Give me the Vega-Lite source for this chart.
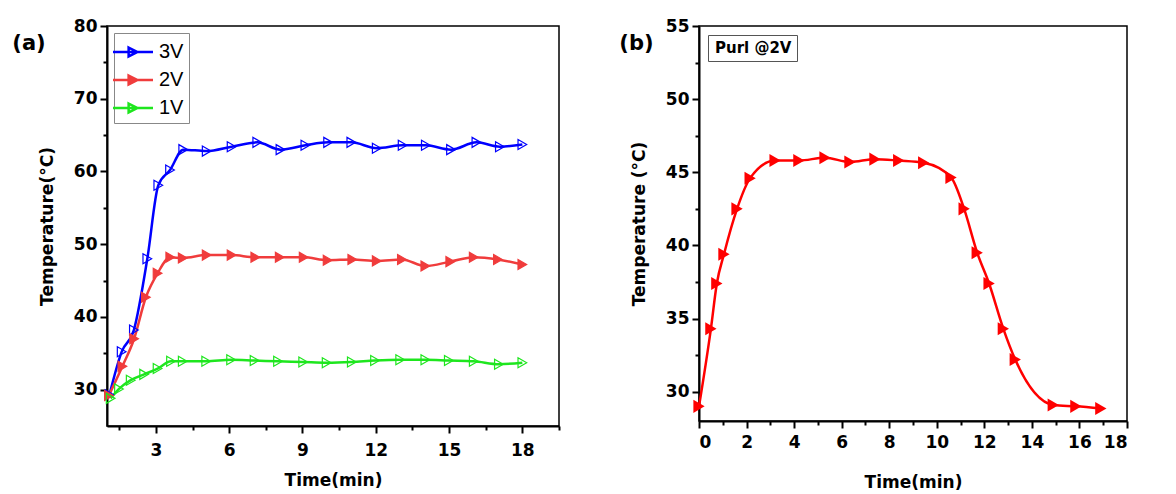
{
  "$schema": "https://vega.github.io/schema/vega-lite/v6.json",
  "padding": {"left": 11, "top": 16, "right": 5, "bottom": 0},
  "background": "white",
  "config": {
    "font": "DejaVu Sans",
    "view": {"stroke": "black", "strokeWidth": 1.5},
    "axis": {"domainColor": "black", "domainWidth": 2, "tickColor": "black", "tickWidth": 2, "tickSize": 7, "labelFont": "DejaVu Sans", "labelFontWeight": "bold", "labelFontSize": 17, "labelColor": "black", "titleFont": "DejaVu Sans", "titleFontWeight": "bold", "titleFontSize": 17, "titleColor": "black", "grid": false, "labelPadding": 3},
    "title": {"anchor": "start", "frame": "bounds", "fontSize": 21, "fontWeight": "bold", "font": "DejaVu Sans", "color": "black"}
  },
  "spacing": 57,
  "resolve": {"scale": {"stroke": "independent", "fill": "independent", "x": "independent", "y": "independent"}, "legend": {"stroke": "independent", "fill": "independent"}},
  "hconcat": [
    {
      "width": 452,
      "height": 400,
      "title": {"text": "(a)", "dx": -26, "dy": 41},
      "data": {"values": [
        {"s": "3V", "t": 1.1, "T": 29.3}, {"s": "3V", "t": 1.6, "T": 35.2}, {"s": "3V", "t": 2.1, "T": 38.2}, {"s": "3V", "t": 2.65, "T": 48.0}, {"s": "3V", "t": 3.1, "T": 58.1}, {"s": "3V", "t": 3.58, "T": 60.2}, {"s": "3V", "t": 4.12, "T": 63.0}, {"s": "3V", "t": 5.08, "T": 62.8}, {"s": "3V", "t": 6.1, "T": 63.4}, {"s": "3V", "t": 7.15, "T": 64.0}, {"s": "3V", "t": 8.1, "T": 63.0}, {"s": "3V", "t": 9.12, "T": 63.6}, {"s": "3V", "t": 10.05, "T": 64.0}, {"s": "3V", "t": 11.0, "T": 64.0}, {"s": "3V", "t": 12.04, "T": 63.2}, {"s": "3V", "t": 13.1, "T": 63.6}, {"s": "3V", "t": 14.05, "T": 63.6}, {"s": "3V", "t": 15.08, "T": 63.0}, {"s": "3V", "t": 16.12, "T": 64.0}, {"s": "3V", "t": 17.08, "T": 63.4}, {"s": "3V", "t": 18.0, "T": 63.7},
        {"s": "2V", "t": 1.08, "T": 29.2}, {"s": "2V", "t": 1.63, "T": 33.2}, {"s": "2V", "t": 2.11, "T": 37.0}, {"s": "2V", "t": 2.59, "T": 42.7}, {"s": "2V", "t": 3.07, "T": 46.0}, {"s": "2V", "t": 3.59, "T": 48.2}, {"s": "2V", "t": 4.1, "T": 48.1}, {"s": "2V", "t": 5.08, "T": 48.5}, {"s": "2V", "t": 6.1, "T": 48.5}, {"s": "2V", "t": 7.07, "T": 48.2}, {"s": "2V", "t": 8.07, "T": 48.2}, {"s": "2V", "t": 9.05, "T": 48.2}, {"s": "2V", "t": 10.03, "T": 47.8}, {"s": "2V", "t": 11.04, "T": 47.9}, {"s": "2V", "t": 12.04, "T": 47.7}, {"s": "2V", "t": 13.07, "T": 47.9}, {"s": "2V", "t": 14.03, "T": 47.0}, {"s": "2V", "t": 15.05, "T": 47.6}, {"s": "2V", "t": 16.01, "T": 48.2}, {"s": "2V", "t": 17.0, "T": 47.9}, {"s": "2V", "t": 18.0, "T": 47.2},
        {"s": "1V", "t": 1.15, "T": 28.8}, {"s": "1V", "t": 1.49, "T": 30.1}, {"s": "1V", "t": 1.97, "T": 31.3}, {"s": "1V", "t": 2.52, "T": 32.1}, {"s": "1V", "t": 3.07, "T": 32.9}, {"s": "1V", "t": 3.62, "T": 33.9}, {"s": "1V", "t": 4.1, "T": 33.9}, {"s": "1V", "t": 5.06, "T": 33.9}, {"s": "1V", "t": 6.08, "T": 34.1}, {"s": "1V", "t": 7.04, "T": 34.0}, {"s": "1V", "t": 8.0, "T": 33.9}, {"s": "1V", "t": 9.03, "T": 33.8}, {"s": "1V", "t": 9.99, "T": 33.7}, {"s": "1V", "t": 11.02, "T": 33.8}, {"s": "1V", "t": 11.97, "T": 34.0}, {"s": "1V", "t": 13.0, "T": 34.1}, {"s": "1V", "t": 14.03, "T": 34.1}, {"s": "1V", "t": 14.99, "T": 34.0}, {"s": "1V", "t": 16.01, "T": 33.9}, {"s": "1V", "t": 17.04, "T": 33.5}, {"s": "1V", "t": 18.0, "T": 33.7}
      ]},
      "layer": [
        {
          "mark": {"type": "line", "interpolate": "monotone", "strokeWidth": 2.5},
          "encoding": {
            "x": {"field": "t", "type": "quantitative", "scale": {"domain": [1, 19.5], "nice": false, "zero": false}, "axis": {"values": [3, 6, 9, 12, 15, 18], "title": "Time(min)", "titlePadding": 14, "labelPadding": 9}},
            "y": {"field": "T", "type": "quantitative", "scale": {"domain": [25, 80], "nice": false, "zero": false}, "axis": {"values": [30, 40, 50, 60, 70, 80], "title": "Temperature(°C)", "titlePadding": 17}},
            "stroke": {"field": "s", "type": "nominal", "scale": {"domain": ["3V", "2V", "1V"], "range": ["#0000ff", "#f03c3c", "#1ee61e"]},
              "legend": {"title": null, "orient": "top-left", "offset": 7, "symbolType": "M-1.6,0H1.6M-0.35,-0.35L0.35,0L-0.35,0.35Z", "symbolSize": 625, "symbolStrokeWidth": 2.5, "labelFontSize": 20, "labelFontWeight": "normal", "labelFont": "Liberation Sans", "labelColor": "black", "fillColor": "white", "strokeColor": "#888888", "padding": 5, "rowPadding": 4, "labelOffset": 12}}
          }
        },
        {
          "mark": {"type": "point", "shape": "triangle-right", "size": 100, "strokeWidth": 1.2, "opacity": 1},
          "encoding": {
            "x": {"field": "t", "type": "quantitative", "axis": {"values": [1.5, 4.5, 7.5, 10.5, 13.5, 16.5, 19.5], "labels": false, "tickSize": 4, "domain": false, "title": null, "orient": "bottom"}},
            "y": {"field": "T", "type": "quantitative", "axis": {"values": [35, 45, 55, 65, 75], "labels": false, "tickSize": 4, "domain": false, "title": null, "orient": "left"}},
            "stroke": {"field": "s", "type": "nominal"},
            "fill": {"field": "s", "type": "nominal", "scale": {"domain": ["3V", "2V", "1V"], "range": ["transparent", "#f03c3c", "transparent"]},
              "legend": {"title": null, "orient": "top-left", "offset": 7, "symbolType": "M-1.6,0H1.6M-0.35,-0.35L0.35,0L-0.35,0.35Z", "symbolSize": 625, "symbolStrokeWidth": 2.5, "labelFontSize": 20, "labelFontWeight": "normal", "labelFont": "Liberation Sans", "labelColor": "black", "fillColor": "white", "strokeColor": "#888888", "padding": 5, "rowPadding": 4, "labelOffset": 12}}
          }
        }
      ],
      "resolve": {"axis": {"x": "independent", "y": "independent"}}
    },
    {
      "width": 428,
      "height": 395,
      "title": {"text": "(b)", "dx": -11, "dy": 41},
      "data": {"values": [
        {"t": 0, "T": 29.0}, {"t": 0.5, "T": 34.3}, {"t": 0.75, "T": 37.4}, {"t": 1.05, "T": 39.4}, {"t": 1.6, "T": 42.5}, {"t": 2.15, "T": 44.6}, {"t": 3.2, "T": 45.8}, {"t": 4.2, "T": 45.8}, {"t": 5.3, "T": 46.0}, {"t": 6.35, "T": 45.7}, {"t": 7.4, "T": 45.9}, {"t": 8.4, "T": 45.8}, {"t": 9.45, "T": 45.65}, {"t": 10.6, "T": 44.65}, {"t": 11.15, "T": 42.5}, {"t": 11.7, "T": 39.5}, {"t": 12.2, "T": 37.4}, {"t": 12.8, "T": 34.3}, {"t": 13.3, "T": 32.2}, {"t": 14.9, "T": 29.1}, {"t": 15.85, "T": 29.0}, {"t": 16.9, "T": 28.85}
      ]},
      "layer": [
        {
          "mark": {"type": "line", "interpolate": "monotone", "strokeWidth": 2.5},
          "encoding": {
            "x": {"field": "t", "type": "quantitative", "scale": {"domain": [0, 18], "nice": false, "zero": false}, "axis": {"values": [0, 2, 4, 6, 8, 10, 12, 14, 16, 18], "title": "Time(min)", "titlePadding": 24, "labelPadding": 6}},
            "y": {"field": "T", "type": "quantitative", "scale": {"domain": [28, 55], "nice": false, "zero": false}, "axis": {"values": [30, 35, 40, 45, 50, 55], "title": "Temperature (°C)", "titlePadding": 17}},
            "stroke": {"datum": "Purl @2V", "scale": {"range": ["#ff0000"]},
              "legend": {"title": null, "orient": "top-left", "offset": 9, "symbolOpacity": 0, "symbolSize": 0, "symbolStrokeWidth": 0, "labelFontSize": 15, "labelFontWeight": "bold", "labelFont": "DejaVu Sans", "labelColor": "black", "fillColor": "white", "strokeColor": "#555555", "padding": 5, "labelOffset": -13}}
          }
        },
        {
          "mark": {"type": "point", "shape": "triangle-right", "size": 170, "filled": true, "color": "#ff0000", "opacity": 1},
          "encoding": {
            "x": {"field": "t", "type": "quantitative", "axis": {"values": [1, 3, 5, 7, 9, 11, 13, 15, 17], "labels": false, "tickSize": 4, "domain": false, "title": null, "orient": "bottom"}},
            "y": {"field": "T", "type": "quantitative", "axis": {"values": [32.5, 37.5, 42.5, 47.5, 52.5], "labels": false, "tickSize": 4, "domain": false, "title": null, "orient": "left"}}
          }
        }
      ],
      "resolve": {"axis": {"x": "independent", "y": "independent"}}
    }
  ]
}
